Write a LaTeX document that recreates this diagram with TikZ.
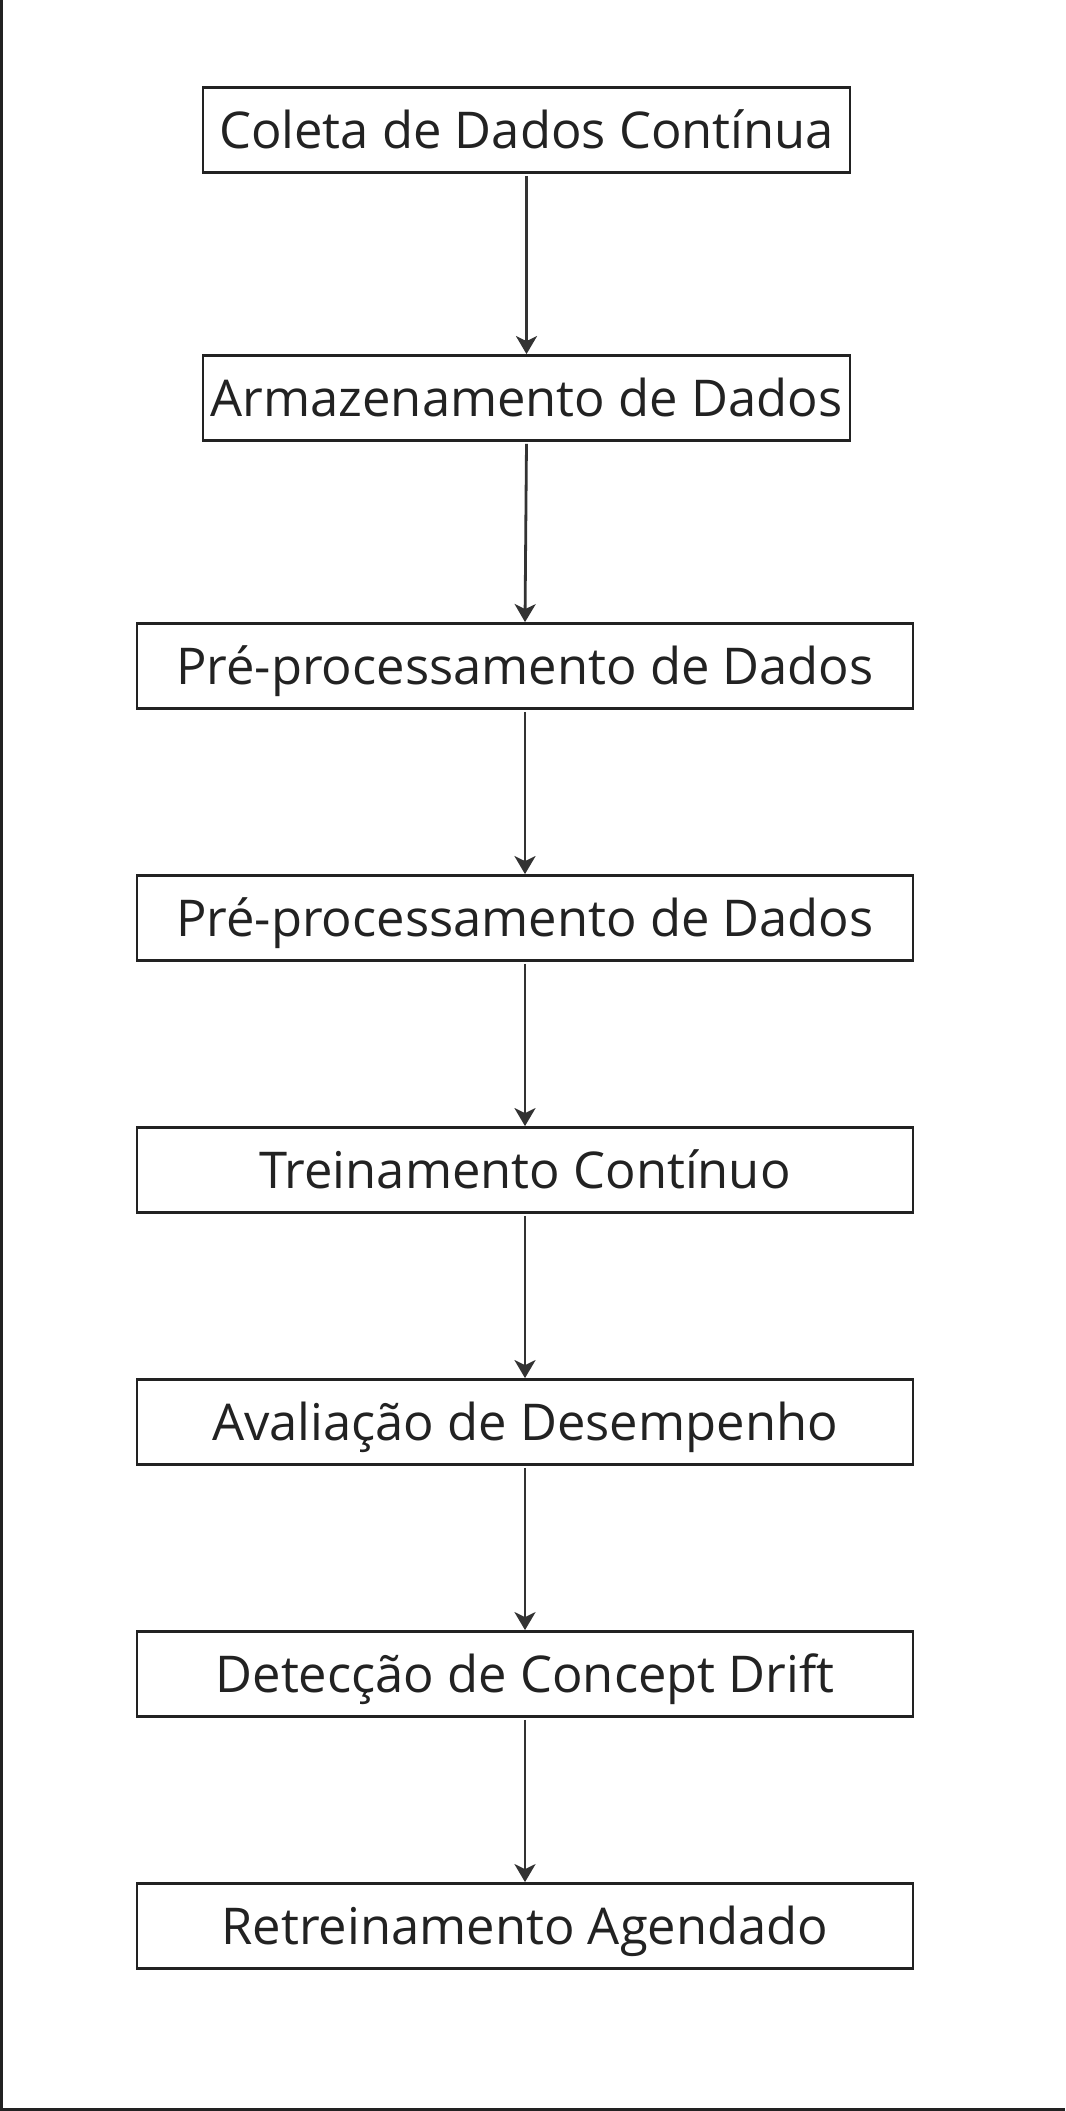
\documentclass[tikz,border=0pt]{standalone}
\usepackage{fontspec}
\setmainfont{Open Sans}
\usetikzlibrary{arrows.meta}
\definecolor{ink}{HTML}{222222}
\definecolor{arr}{HTML}{333333}
\begin{document}
\begin{tikzpicture}[x=1pt,y=-1pt,
  stepbox/.style={draw=ink,line width=2.8pt,rectangle,inner sep=0pt,
     minimum height=85pt,font=\fontsize{50.7}{60}\selectfont,text=ink,
     text height=36.2pt,text depth=0pt},
  narrowbox/.style={stepbox,minimum width=647pt},
  widebox/.style={stepbox,minimum width=776pt},
  flow/.style={draw=arr,line width=2.8pt,-{Stealth[length=18pt,width=21pt,inset=5pt]},shorten <=2pt}
]
\useasboundingbox (0,0) rectangle (1065,2111);
\draw[ink,line width=2.7pt] (1.35,0) coordinate (fa) -- (1.35,2109.6) coordinate (fb) -- (1065,2109.6) coordinate (fc);
\node[narrowbox] (n1) at (526.5,130) {Coleta de Dados Contínua};
\node[narrowbox] (n2) at (526.5,398) {Armazenamento de Dados};
\node[widebox] (n3) at (525,666) {Pré-processamento de Dados};
\node[widebox] (n4) at (525,918) {Pré-processamento de Dados};
\node[widebox] (n5) at (525,1170) {Treinamento Contínuo};
\node[widebox] (n6) at (525,1422) {Avaliação de Desempenho};
\node[widebox] (n7) at (525,1674) {Detecção de Concept Drift};
\node[widebox] (n8) at (525,1926) {Retreinamento Agendado};
\draw[flow] (n1.south) -- (n2.north);
\draw[flow] (n2.south) -- (n3.north);
\draw[flow] (n3.south) -- (n4.north);
\draw[flow] (n4.south) -- (n5.north);
\draw[flow] (n5.south) -- (n6.north);
\draw[flow] (n6.south) -- (n7.north);
\draw[flow] (n7.south) -- (n8.north);
\end{tikzpicture}
\end{document}
